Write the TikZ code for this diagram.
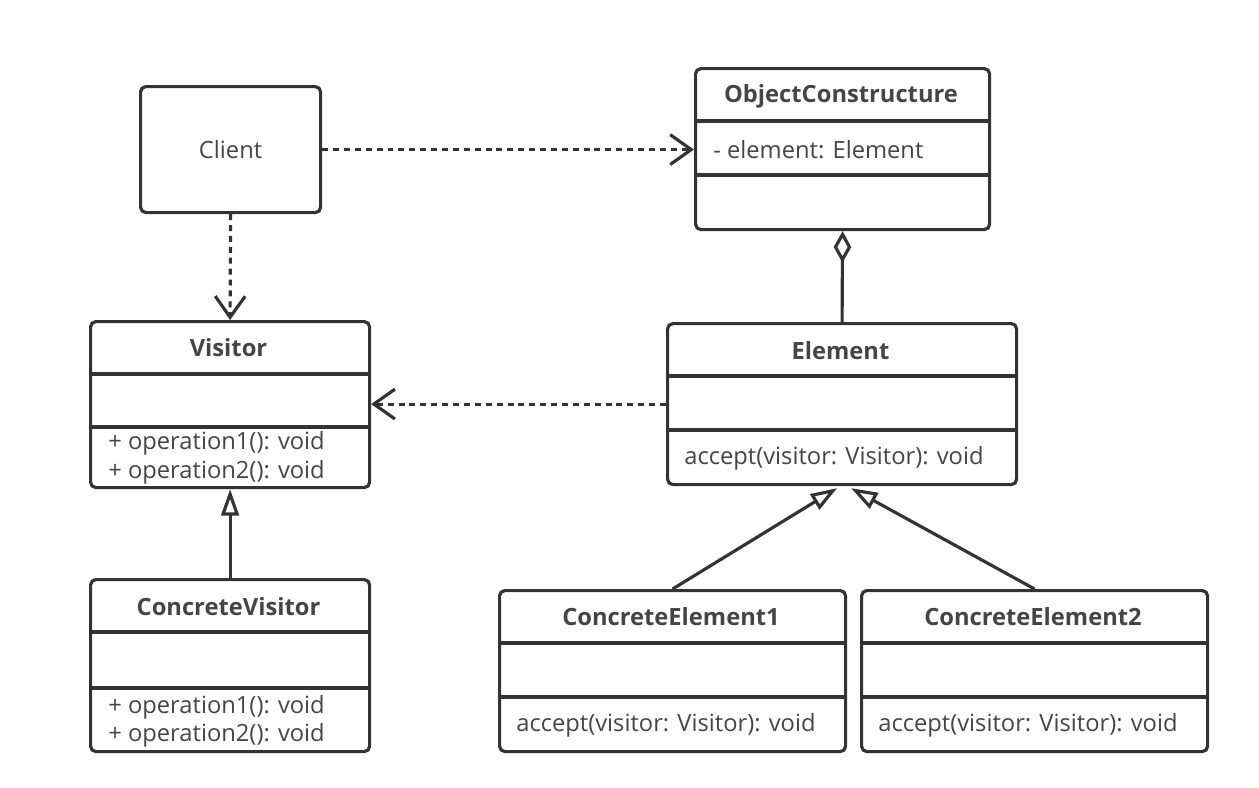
\documentclass[tikz,border=0pt]{standalone}
\usepackage{fontspec}
\setmainfont{Open Sans}
\usetikzlibrary{arrows.meta,calc}

\definecolor{linegray}{HTML}{333333}
\definecolor{textgray}{HTML}{454545}

\tikzset{
  classbox/.style={draw=linegray, line width=1.8pt, rounded corners=3pt, anchor=north west, inner sep=0pt, text=textgray, font=\fontsize{13.5}{15}\selectfont},
  classline/.style={draw=linegray, line width=1.8pt},
  classname/.style={font=\fontsize{13.5}{15}\selectfont\bfseries, text=textgray, inner sep=0pt},
  member/.style={anchor=west, font=\fontsize{13.5}{15}\selectfont, text=textgray, inner sep=0pt},
  depend/.style={draw=linegray, line width=1.8pt, dash pattern=on 3.4pt off 2.8pt, -{Straight Barb[length=12pt, width=17pt, line width=1.8pt]}},
  inherit/.style={draw=linegray, line width=1.8pt, -{Triangle[open, length=15pt, width=10pt, fill=white]}},
  aggreg/.style={draw=linegray, line width=1.8pt, {Diamond[open, length=18pt, width=10pt, fill=white]}-}
}

\begin{document}
\begin{tikzpicture}[x=0.02cm, y=-0.02cm]

% Sizes
\def\px{0.02}

\useasboundingbox (0,0) rectangle (1259,788);

% Client
\node[classbox, minimum width=180*\px cm, minimum height=126*\px cm] (client) at (139,85) {Client};

% ObjectConstructure
\node[classbox, minimum width=294*\px cm, minimum height=161*\px cm] (objcons) at (694,67) {};
\node[classname] (objcons-name) at (841,96) {ObjectConstructure};
\draw[classline] (694,121) -- (988,121);
\draw[classline] (694,175) -- (988,175);
\node[member] (objcons-attr) at (713,150) {- element: Element};

% Visitor
\node[classbox, minimum width=279*\px cm, minimum height=166*\px cm] (visitor) at (89,320) {};
\node[classname] (visitor-name) at (228.5,348) {Visitor};
\draw[classline] (89,374) -- (368,374);
\draw[classline] (89,427) -- (368,427);
\foreach \y/\op in {443/operation1, 472/operation2} {
  \node[member] (visitor-\op) at (108,\y) {+ \op(): void};
}

% ConcreteVisitor
\node[classbox, minimum width=279*\px cm, minimum height=172*\px cm] (cvisitor) at (89,578) {};
\node[classname] (cvisitor-name) at (228.5,607) {ConcreteVisitor};
\draw[classline] (89,632) -- (368,632);
\draw[classline] (89,688) -- (368,688);
\foreach \y/\op in {707/operation1, 735/operation2} {
  \node[member] (cvisitor-\op) at (108,\y) {+ \op(): void};
}

% Element
\node[classbox, minimum width=349*\px cm, minimum height=161*\px cm] (element) at (666,322) {};
\node[classname] (element-name) at (840.5,351) {Element};
\draw[classline] (666,376) -- (1015,376);
\draw[classline] (666,430) -- (1015,430);
\node[member] (element-accept) at (684,458) {accept(visitor: Visitor): void};

% Concrete elements
\foreach \n/\x in {1/498, 2/860} {
  \node[classbox, minimum width=346*\px cm, minimum height=161*\px cm] (celem\n) at (\x,589) {};
  \node[classname] (celem\n-name) at (\x+173,617) {ConcreteElement\n};
  \draw[classline] (\x,643) -- (\x+346,643);
  \draw[classline] (\x,697) -- (\x+346,697);
  \node[member] (celem\n-accept) at (\x+18,725) {accept(visitor: Visitor): void};
}

% Relations
\draw[depend] (client.east) -- (objcons.west |- client.east);
\draw[depend] (client.south) -- (visitor.north);
\draw[depend] (element.west) -- (visitor.east |- element.west);
\draw[aggreg] (objcons.south) -- (element.north);
\draw[inherit] (cvisitor.north) -- (visitor.south);
\draw[inherit] (celem1.north) -- ($(element.south)+(-5,2)$);
\draw[inherit] (celem2.north) -- ($(element.south)+(9,2)$);

\end{tikzpicture}
\end{document}
